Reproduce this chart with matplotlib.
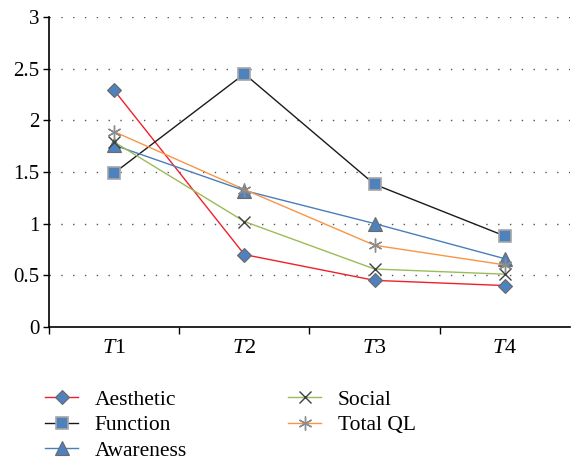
import matplotlib
matplotlib.use("Agg")
import matplotlib.pyplot as plt
import numpy as np

# データ
times = ["T1", "T2", "T3", "T4"]
aesthetic = [2.29, 0.70, 0.45, 0.40]
function = [1.49, 2.45, 1.38, 0.88]
awareness = [1.76, 1.32, 1.00, 0.66]
social = [1.79, 1.02, 0.56, 0.51]
total_ql = [1.89, 1.33, 0.79, 0.60]

plt.rcParams["font.family"] = ["Liberation Serif", "DejaVu Serif"]
plt.rcParams["mathtext.fontset"] = "custom"
plt.rcParams["mathtext.it"] = "Liberation Serif:italic"
plt.rcParams["mathtext.rm"] = "Liberation Serif"

fig = plt.figure(figsize=(5.71, 4.61), dpi=100)
ax = fig.add_axes([0.086, 0.291, 0.912, 0.672])

x = np.arange(len(times))
mfc = "#4F81BD"
mec = "#A6A6A6"

ax.plot(x, aesthetic, color="#F0202A", lw=1.0, marker="D", ms=7.5,
        mfc=mfc, mec="#6A6A6A", mew=0.8, label="Aesthetic")
ax.plot(x, function, color="#1A1A1A", lw=1.0, marker="s", ms=9,
        mfc=mfc, mec=mec, mew=1.2, label="Function")
ax.plot(x, awareness, color="#4A7EBB", lw=1.0, marker="^", ms=9.5,
        mfc=mfc, mec="#6A6A6A", mew=0.8, label="Awareness")
ax.plot(x, social, color="#9BBB59", lw=1.0, marker="x", ms=8,
        mec="#404040", mew=1.0, label="Social")
ax.plot(x, total_ql, color="#F79646", lw=1.0, marker=(6, 2, 0), ms=10,
        mec="#8C8C8C", mew=1.0, label="Total QL")

# 軸設定
ax.set_xlim(-0.5, 3.5)
ax.set_ylim(0, 3)
ax.set_yticks(np.arange(0, 3.01, 0.5))
ax.set_yticklabels(["0", "0.5", "1", "1.5", "2", "2.5", "3"], fontsize=15)
ax.set_xticks(x - 0.5)
ax.set_xticklabels([])
ax.set_xticks(x, minor=True)
ax.set_xticklabels(["$T$" + t[1:] for t in times], minor=True, fontsize=16)
ax.tick_params(axis="x", which="minor", length=0, pad=9)
ax.tick_params(axis="x", which="major", length=5, width=1, direction="out")
ax.tick_params(axis="y", length=4, width=1, direction="out", pad=3)

ax.yaxis.grid(True, linestyle=(0, (1, 7.5)), color="#555555", lw=1)
ax.set_axisbelow(True)
for s in ["top", "right"]:
    ax.spines[s].set_visible(False)
ax.spines["left"].set_linewidth(1.2)
ax.spines["bottom"].set_linewidth(1.2)

fig.legend(loc="lower left", bbox_to_anchor=(0.045, -0.042), ncol=2,
           frameon=False, fontsize=15.5, handlelength=1.55, handletextpad=0.75,
           columnspacing=4.7, labelspacing=0.26)

fig.savefig("out.png", dpi=100)
